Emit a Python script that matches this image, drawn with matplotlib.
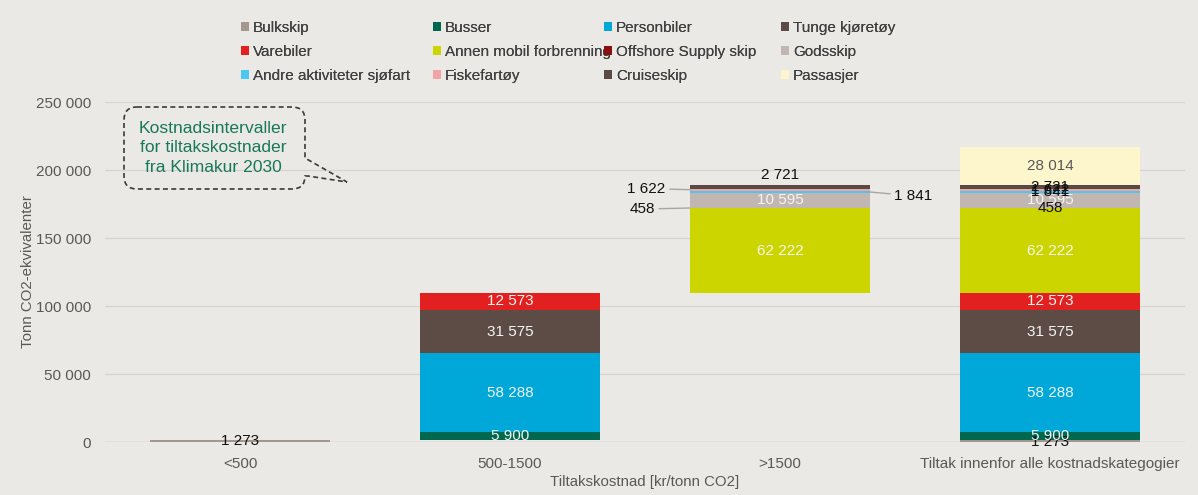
import matplotlib
matplotlib.use("Agg")
import matplotlib.pyplot as plt
import numpy as np
from matplotlib.path import Path
from matplotlib.patches import PathPatch, Patch

plt.rcParams['font.family'] = ['Liberation Sans', 'DejaVu Sans']

categories = ["<500", "500-1500", ">1500", "Tiltak innenfor alle kostnadskategogier"]
series = ["Bulkskip", "Busser", "Personbiler", "Tunge kjøretøy", "Varebiler",
          "Annen mobil forbrenning", "Offshore Supply skip", "Godsskip",
          "Andre aktiviteter sjøfart", "Fiskefartøy", "Cruiseskip", "Passasjer"]
colors = ["#A3978F", "#00684F", "#00A8DA", "#5C4C45", "#E2201F",
          "#CCD500", "#8A1010", "#C2B6B1", "#4CC7F2", "#F2A3A3", "#5A4A43", "#FDF5CB"]
# values per series, per category
bulkskip   = [1273, 0, 0, 1273]
busser     = [0, 5900, 0, 5900]
personbil  = [0, 58288, 0, 58288]
tunge      = [0, 31575, 0, 31575]
varebiler  = [0, 12573, 0, 12573]
annen      = [0, 0, 62222, 62222]
offshore   = [0, 0, 458, 458]
godsskip   = [0, 0, 10595, 10595]
andre      = [0, 0, 1841, 1841]
fiske      = [0, 0, 1622, 1622]
cruise     = [0, 0, 2721, 2721]
passasjer  = [0, 0, 0, 28014]
values = [bulkskip, busser, personbil, tunge, varebiler, annen, offshore,
          godsskip, andre, fiske, cruise, passasjer]

W, H = 1198, 495
fig = plt.figure(figsize=(W/100, H/100), dpi=100)
bg = "#EBE9E5"
fig.patch.set_facecolor(bg)
ax = fig.add_axes([105/W, 1-442/H, 1080/W, 340/H])
ax.set_facecolor(bg)

x = np.arange(len(categories))
vals = np.array(values, dtype=float)
totals = vals.sum(axis=0)
base = np.zeros(len(categories))
base[1:3] = np.cumsum(totals)[0:2]   # waterfall for the interval bars
bw = 0.667

bottoms = base.copy()
seg = {}
for i, name in enumerate(series):
    v = vals[i]
    ax.bar(x, v, bottom=bottoms, width=bw, color=colors[i], zorder=3,
           linewidth=0)
    seg[name] = (bottoms.copy(), v.copy())
    bottoms = bottoms + v

def fmt(v):
    return f"{int(round(v)):,}".replace(",", " ")

def center(name, c):
    b, v = seg[name]
    return b[c] + v[c] / 2

white = "#F4F4F4"
fs = 11
# Bar 1
ax.text(0, center("Bulkskip", 0), fmt(bulkskip[0]), ha='center', va='center', fontsize=fs, color='#111111', zorder=5)
# Bar 2 and bar 4 common white labels
for c in (1, 3):
    for name, arr in [("Busser", busser), ("Personbiler", personbil),
                      ("Tunge kjøretøy", tunge), ("Varebiler", varebiler)]:
        ax.text(c, center(name, c), fmt(arr[c]), ha='center', va='center',
                fontsize=fs, color=white, zorder=5)
for c in (2, 3):
    ax.text(c, center("Annen mobil forbrenning", c), fmt(annen[c]), ha='center', va='center', fontsize=fs, color=white, zorder=5)
    ax.text(c, center("Godsskip", c), fmt(godsskip[c]), ha='center', va='center', fontsize=fs, color=white, zorder=5)
# Bar 3 small labels with leader lines
lc = "#A6A6A6"
ax.text(2, bottoms[2] + 2300, fmt(cruise[2]), ha='center', va='bottom', fontsize=fs, color='#111111', zorder=5)
yf = center("Fiskefartøy", 2)
ax.annotate(fmt(fiske[2]), xy=(2 - bw/2, yf), xytext=(2 - bw/2 - 0.09, yf + 800),
            ha='right', va='center', fontsize=fs, color='#111111', zorder=5,
            arrowprops=dict(arrowstyle='-', color=lc, lw=1, shrinkA=1, shrinkB=0))
yo = center("Offshore Supply skip", 2)
ax.annotate(fmt(offshore[2]), xy=(2 - bw/2, yo), xytext=(2 - bw/2 - 0.13, yo - 800),
            ha='right', va='center', fontsize=fs, color='#111111', zorder=5,
            arrowprops=dict(arrowstyle='-', color=lc, lw=1, shrinkA=1, shrinkB=0))
ya = center("Andre aktiviteter sjøfart", 2)
ax.annotate(fmt(andre[2]), xy=(2 + bw/2, ya), xytext=(2 + bw/2 + 0.09, ya - 2800),
            ha='left', va='center', fontsize=fs, color='#111111', zorder=5,
            arrowprops=dict(arrowstyle='-', color=lc, lw=1, shrinkA=1, shrinkB=0))
# Bar 4 small labels (overlapping, at centers, as in the reference)
ax.text(3, center("Bulkskip", 3) - 600, fmt(bulkskip[3]), ha='center', va='center', fontsize=fs, color='#111111', zorder=4)
for name, arr in [("Offshore Supply skip", offshore), ("Andre aktiviteter sjøfart", andre),
                  ("Fiskefartøy", fiske), ("Cruiseskip", cruise)]:
    ax.text(3, center(name, 3), fmt(arr[3]), ha='center', va='center', fontsize=fs, color='#111111', zorder=5)
ax.text(3, center("Passasjer", 3), fmt(passasjer[3]), ha='center', va='center', fontsize=fs, color='#595959', zorder=5)

# Axes styling
ax.set_xlim(-0.5, 3.5)
ax.set_ylim(0, 250000)
yt = np.arange(0, 250001, 50000)
ax.set_yticks(yt)
ax.set_yticklabels([fmt(t) for t in yt], fontsize=11, color='#595959')
ax.set_xticks(x)
ax.set_xticklabels(categories, fontsize=11, color='#595959')
ax.tick_params(axis='both', length=0)
ax.tick_params(axis='y', pad=10)
ax.tick_params(axis='x', pad=11)
ax.grid(axis='y', color='#D6D4D0', lw=0.9, zorder=0)
for s in ax.spines.values():
    s.set_visible(False)
ax.axhline(0, color='#C8C5C0', lw=1, zorder=2)
ax.set_ylabel("Tonn CO2-ekvivalenter", fontsize=10.8, color='#595959')
ax.yaxis.set_label_coords((28 - 105) / 1080, 0.5)
ax.set_xlabel("Tiltakskostnad [kr/tonn CO2]", fontsize=10.8, color='#595959')
ax.xaxis.set_label_coords(0.5, -(482 - 442) / 340)
ax.xaxis.label.set_va('center')
ax.yaxis.label.set_va('center')

# Legend: 4 columns, row-wise order
col_x = [241, 433, 604, 781]
handles = [Patch(facecolor=colors[i], edgecolor='none') for i in range(len(series))]
for c in range(4):
    idx = [c, c + 4, c + 8]
    leg = fig.legend([handles[i] for i in idx], [series[i] for i in idx],
                     loc='upper left', bbox_to_anchor=(col_x[c]/W, 1 - 21/H),
                     bbox_transform=fig.transFigure, frameon=False, fontsize=11,
                     handlelength=0.55, handleheight=0.55, handletextpad=0.25,
                     labelspacing=0.66, borderpad=0, borderaxespad=0,
                     labelcolor='#404040')
    fig.add_artist(leg)

# Callout box
def P(px, py):
    return (px / W, 1 - py / H)
x0, x1, y0, y1, r = 124, 305, 107, 189, 13
verts = [P(x0 + r, y0), P(x1 - r, y0), P(x1, y0), P(x1, y0 + r), P(x1, 158),
         P(347, 182), P(308, 176), P(305, y1 - r), P(305, y1), P(x1 - r, y1),
         P(x0 + r, y1), P(x0, y1), P(x0, y1 - r), P(x0, y0 + r), P(x0, y0), P(x0 + r, y0)]
codes = [Path.MOVETO, Path.LINETO, Path.CURVE3, Path.CURVE3, Path.LINETO,
         Path.LINETO, Path.LINETO, Path.LINETO, Path.CURVE3, Path.CURVE3,
         Path.LINETO, Path.CURVE3, Path.CURVE3, Path.LINETO, Path.CURVE3, Path.CURVE3]
patch = PathPatch(Path(verts, codes), transform=fig.transFigure, fill=False,
                  edgecolor='#3A3A3A', lw=1.2, linestyle=(0, (3, 2)))
fig.add_artist(patch)
fig.text(213/W, 1 - 148/H, "Kostnadsintervaller\nfor tiltakskostnader\nfra Klimakur 2030",
         ha='center', va='center', fontsize=12.6, color='#17785C', linespacing=1.36)

fig.savefig("out.png", dpi=100, facecolor=bg)
